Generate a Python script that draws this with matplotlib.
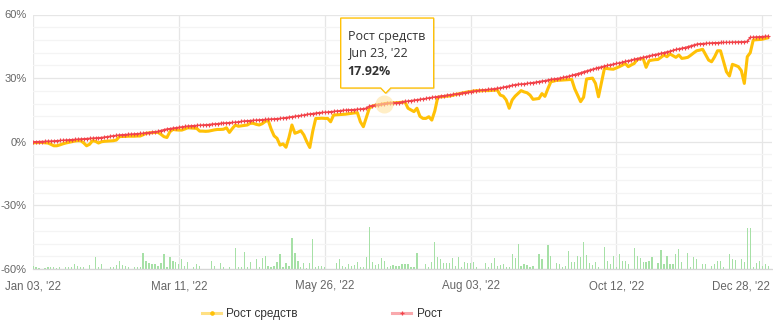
import matplotlib
matplotlib.use("Agg")
import matplotlib.pyplot as plt
from matplotlib.lines import Line2D
from matplotlib.patches import Polygon
import matplotlib.transforms as mtransforms
import numpy as np

# ---------------- data ----------------
equity_growth = [
    -0.5, -0.4, -0.4, -0.3, -0.5, -0.6, -1.2, -1.9, -1.9, -1.5,
    -1.0, -0.6, -0.3, 0.0, 0.3, 0.5, 0.5, -0.5, -1.9, -1.2,
    0.5, 0.2, -0.6, 0.0, 0.2, 0.3, 0.4, 0.5, 0.8, 2.4,
    2.5, 2.5, 2.6, 2.6, 2.6, 2.7, 2.7, 3.3, 4.0, 4.2,
    4.3, 4.4, 4.4, 3.5, 2.4, 2.0, 4.7, 5.8, 5.6, 5.5,
    5.5, 6.0, 6.6, 6.5, 6.4, 6.3, 5.0, 5.0, 4.9, 5.0,
    5.3, 5.6, 5.8, 5.8, 5.9, 6.6, 4.4, 6.3, 7.9, 7.3,
    7.5, 7.7, 7.9, 8.7, 8.7, 8.2, 7.9, 8.5, 9.5, 10.2,
    6.0, 2.8, 1.6, -1.6, -1.0, -2.6, 2.0, 7.9, 4.0, 4.5,
    5.2, 3.2, 0.0, -2.7, 5.0, 11.0, 11.0, 11.1, 11.0, 11.0,
    9.4, 12.6, 12.7, 12.8, 12.9, 13.0, 13.2, 13.4, 13.6, 13.7,
    9.4, 7.1, 11.5, 15.8, 16.8, 17.2, 17.4, 17.6, 17.92, 18.1,
    18.2, 18.3, 18.4, 18.5, 18.6, 18.7, 15.8, 15.0, 14.2, 15.8,
    12.0, 11.0, 11.0, 11.8, 10.2, 14.5, 21.0, 21.2, 21.3, 21.5,
    21.6, 21.9, 22.3, 22.6, 22.9, 23.2, 23.5, 23.7, 23.9, 24.1,
    24.0, 24.1, 24.2, 24.1, 24.2, 24.3, 24.4, 22.0, 21.5, 19.7,
    15.8, 19.7, 21.5, 22.8, 24.1, 23.5, 23.1, 22.0, 20.0, 20.2,
    20.4, 22.7, 21.4, 25.0, 28.3, 28.6, 29.0, 29.0, 29.1, 29.2,
    29.3, 29.4, 25.0, 22.0, 18.9, 21.0, 29.6, 29.8, 30.0, 27.5,
    21.2, 28.0, 34.6, 34.5, 34.3, 34.2, 34.8, 35.4, 36.1, 36.9,
    35.4, 36.2, 36.9, 38.8, 39.0, 39.3, 35.1, 38.2, 38.5, 38.7,
    38.8, 39.8, 40.9, 40.1, 41.4, 40.6, 39.8, 40.9, 39.3, 39.5,
    39.8, 40.8, 41.9, 42.9, 43.2, 43.6, 41.0, 38.5, 37.7, 40.0,
    42.9, 42.9, 38.0, 33.0, 31.0, 36.5, 36.0, 35.4, 33.5, 27.5,
    40.1, 42.0, 48.0, 48.1, 48.2, 48.3, 48.7, 49.0,
]

growth = [
    0.0, 0.0, 0.1, 0.1, 0.2, 0.3, 0.3, 0.4, 0.5, 0.6,
    0.7, 0.8, 0.9, 1.0, 1.1, 1.2, 1.3, 1.4, 1.5, 1.6,
    1.7, 1.8, 1.9, 2.0, 2.2, 2.4, 2.6, 2.8, 3.0, 3.2,
    3.3, 3.4, 3.5, 3.6, 3.7, 3.8, 3.9, 4.0, 4.2, 4.3,
    4.5, 4.7, 4.9, 5.3, 5.7, 6.0, 6.2, 6.4, 6.6, 6.8,
    7.0, 7.2, 7.4, 7.5, 7.6, 7.7, 7.8, 7.9, 8.0, 8.1,
    8.3, 8.4, 8.5, 8.7, 8.8, 8.9, 9.0, 9.1, 9.2, 9.4,
    9.6, 9.8, 9.9, 10.0, 10.1, 10.2, 10.3, 10.4, 10.5, 10.6,
    10.7, 10.8, 10.9, 11.0, 11.2, 11.4, 11.6, 11.8, 12.0, 12.2,
    12.4, 12.6, 12.9, 13.1, 13.3, 13.5, 13.7, 13.8, 13.9, 14.0,
    14.2, 14.3, 14.5, 14.6, 14.8, 14.9, 15.0, 15.1, 15.2, 15.3,
    15.4, 15.6, 15.8, 16.8, 17.0, 17.3, 17.5, 17.7, 18.0, 18.1,
    18.2, 18.3, 18.4, 18.5, 18.8, 19.0, 19.2, 19.4, 19.6, 19.8,
    20.0, 20.2, 20.4, 20.7, 20.9, 21.1, 21.3, 21.5, 21.7, 21.9,
    22.1, 22.3, 22.5, 22.7, 23.0, 23.2, 23.4, 23.6, 23.8, 24.0,
    24.2, 24.4, 24.5, 24.7, 24.8, 25.0, 25.2, 25.4, 25.7, 26.0,
    26.3, 26.6, 26.9, 27.1, 27.2, 27.3, 27.5, 27.7, 27.9, 28.1,
    28.4, 28.6, 28.8, 29.1, 29.4, 29.6, 29.8, 30.0, 30.3, 30.6,
    30.9, 31.3, 31.7, 32.1, 32.5, 33.0, 33.4, 33.8, 34.2, 34.6,
    35.0, 35.3, 35.7, 36.0, 36.3, 36.6, 36.9, 37.2, 37.5, 37.9,
    38.2, 38.5, 38.9, 39.2, 39.5, 39.8, 40.1, 40.5, 40.8, 41.1,
    41.4, 41.7, 42.0, 42.4, 42.7, 43.1, 43.5, 43.8, 44.1, 44.4,
    44.8, 45.2, 45.6, 46.0, 46.2, 46.3, 46.4, 46.5, 46.6, 46.7,
    46.7, 46.8, 46.8, 46.9, 46.9, 47.0, 47.0, 47.1, 47.1, 47.2,
    47.3, 49.2, 49.3, 49.4, 49.5, 49.6, 49.7, 49.8,
]

volume = [
    1.4, 0.8, 0.3, 0, 0.6, 1.1, 0.8, 0.8, 0.6, 1.1,
    0, 1.1, 1.1, 0.8, 2.4, 1.4, 1.1, 0.8, 0, 1.9,
    0, 5.5, 1.1, 2.2, 0, 0, 0.8, 1.1, 1.9, 3.9,
    1.9, 1.4, 1.1, 0, 0.8, 0.8, 0.8, 7.4, 3.9, 2.7,
    2.2, 2.2, 1.4, 2.7, 6.9, 0.8, 5.8, 3.9, 3.5, 2.2,
    4.6, 1.4, 3.5, 0, 1.1, 2.2, 1.4, 0, 0, 0,
    3.6, 1.6, 0, 2.7, 1.1, 0, 0.8, 0, 9.7, 1.1,
    0.8, 7.9, 1.1, 3.5, 0, 4.6, 0.8, 5.0, 6.3, 1.4,
    0.8, 1.4, 3.5, 6.9, 1.1, 2.7, 1.4, 14.5, 7.7, 3.9,
    1.1, 3.0, 0.3, 2.7, 14.0, 1.1, 1.4, 1.6, 1.1, 0.2,
    0, 0, 2.7, 4.6, 1.4, 0.8, 2.2, 1.6, 1.7, 3.1,
    0.8, 1.1, 5.5, 20.0, 3.5, 1.9, 2.2, 5.0, 3.9, 1.1,
    1.6, 2.0, 1.6, 1.6, 2.4, 2.4, 2.4, 0.8, 1.1, 7.4,
    0, 0, 2.2, 0.8, 3.5, 12.9, 5.8, 4.6, 2.7, 2.7,
    2.7, 5.0, 1.4, 5.8, 1.1, 3.5, 2.7, 3.0, 3.5, 0.8,
    0, 0, 2.7, 0.8, 2.7, 5.0, 1.4, 1.9, 2.2, 0.8,
    1.0, 6.9, 5.0, 11.6, 1.4, 2.2, 1.7, 1.1, 1.6, 0,
    6.9, 4.6, 0, 11.3, 6.3, 0, 2.7, 2.2, 0.8, 1.6,
    8.3, 3.5, 3.1, 6.3, 5.5, 12.6, 6.8, 3.0, 1.9, 3.1,
    0.8, 0, 10.2, 3.6, 2.2, 6.3, 1.1, 6.9, 3.6, 3.6,
    2.2, 0, 9.7, 6.3, 5.0, 3.1, 3.1, 3.9, 5.8, 0,
    3.0, 8.8, 2.2, 6.3, 2.2, 2.2, 6.9, 9.3, 3.5, 0,
    7.4, 0.8, 5.8, 4.7, 0, 2.2, 2.2, 0, 1.4, 2.2,
    3.9, 3.6, 0.8, 0, 6.9, 4.7, 4.2, 0, 4.6, 3.1,
    19.5, 19.5, 0.8, 2.7, 3.9, 1.6, 2.2, 1.2,
]

tick_idx = [0, 49, 98, 147, 196, 245]
tick_labels = ["Jan 03, '22", "Mar 11, '22", "May 26, '22",
               "Aug 03, '22", "Oct 12, '22", "Dec 28, '22"]
y_ticks = [-60, -30, 0, 30, 60]
y_labels = ["-60%", "-30%", "0%", "30%", "60%"]
series_names = ["Рост средств", "Рост"]
tooltip_idx = 118
tooltip_date = "Jun 23, '22"

# ---------------- styling ----------------
YELLOW = "#FFC107"
RED = "#F2434A"
GREEN = "#A6E0A6"
TXT = "#666666"

W, H = 773, 324
fig = plt.figure(figsize=(W / 100, H / 100), dpi=100)
fig.patch.set_facecolor("white")
ax = fig.add_axes([33 / W, 1 - 269 / H, (772 - 33) / W, (269 - 14.5) / H])

x = np.arange(len(equity_growth))
ax.set_xlim(0, 248.3)
ax.set_ylim(-60, 60)

# grid
ax.set_yticks(y_ticks)
ax.set_yticklabels(y_labels)
ax.set_yticks([v for v in range(-54, 60, 6) if v % 30 != 0], minor=True)
ax.set_xticks(tick_idx)
ax.set_xticklabels(tick_labels)
ax.grid(which="major", axis="both", color="#e6e6e6", lw=0.9, zorder=0)
ax.grid(which="minor", axis="y", color="#f4f4f4", lw=0.9, zorder=0)
ax.set_axisbelow(True)
for s in ["top", "right", "left"]:
    ax.spines[s].set_visible(False)
ax.spines["bottom"].set_color("#d6d6d6")
ax.spines["bottom"].set_linewidth(0.9)

ax.tick_params(axis="both", which="both", length=0)
ax.tick_params(axis="x", pad=8, labelsize=8.3, labelcolor=TXT)
ax.tick_params(axis="y", pad=4.5, labelsize=8.0, labelcolor=TXT)
for lbl in ax.get_xticklabels() + ax.get_yticklabels():
    lbl.set_fontfamily("Liberation Sans")
last = ax.get_xticklabels()[-1]
last.set_horizontalalignment("right")
last.set_transform(last.get_transform() +
                   mtransforms.ScaledTranslation(0.08, 0, fig.dpi_scale_trans))

# bars
ax.bar(x, volume, bottom=-60, width=0.42, color=GREEN, zorder=2, linewidth=0)

# lines
ax.plot(x, equity_growth, color=YELLOW, lw=2.2, zorder=3,
        solid_joinstyle="round", solid_capstyle="round")
ax.plot(x, growth, color=RED, lw=1.0, marker="+", ms=3.2, mew=0.8, zorder=4)

# highlight point
ax.plot(tooltip_idx, equity_growth[tooltip_idx], "o", ms=13, color="#FFE3A0",
        alpha=0.6, mec="none", zorder=5)

# tooltip
px, py = ax.transData.transform((tooltip_idx, equity_growth[tooltip_idx]))
left, right = px - 43.5, px + 49.5
top, bottom = py + 85.7, py + 15.7
apex = (px + 1.5, py + 10.5)
poly_disp = [(left, top), (right, top), (right, bottom), (apex[0] + 5, bottom),
             apex, (apex[0] - 5, bottom), (left, bottom)]
inv = fig.transFigure.inverted()
shadow = [inv.transform((a + 1.2, b - 1.2)) for a, b in poly_disp]
poly = [inv.transform(p) for p in poly_disp]
fig.add_artist(Polygon(shadow, closed=True, facecolor="#000000", alpha=0.08,
                       edgecolor="none", zorder=9))
fig.add_artist(Polygon(poly, closed=True, facecolor="white", edgecolor=YELLOW,
                       lw=1.0, zorder=10))
tx, _ = inv.transform((left + 7, 0))
lines_txt = [(series_names[0], "normal", 18), (tooltip_date, "normal", 35),
             (f"{equity_growth[tooltip_idx]:.2f}%", "bold", 53)]
for txt, weight, off in lines_txt:
    _, ty = inv.transform((0, top - off))
    fig.text(tx, ty, txt, ha="left", va="center", fontsize=9, color="#333333",
             fontweight=weight, family=["Open Sans", "DejaVu Sans"], zorder=11)

# legend
handles = [
    Line2D([], [], color=(1.0, 0.76, 0.03, 0.5), lw=2.2, marker="o", ms=2.3,
           markerfacecolor=YELLOW, markeredgecolor=YELLOW),
    Line2D([], [], color=(0.95, 0.26, 0.29, 0.45), lw=2.2, marker="+", ms=3.5,
           mew=0.9, markeredgecolor=RED),
]
fig.legend(handles, series_names, loc="center", bbox_to_anchor=(322 / W, 1 - 314 / H),
           ncol=2, frameon=False, prop={"family": "Liberation Sans", "size": 8.5},
           labelcolor="#333333", handlelength=1.6, handletextpad=0.45,
           columnspacing=8.0)

fig.savefig("out.png", dpi=100)
